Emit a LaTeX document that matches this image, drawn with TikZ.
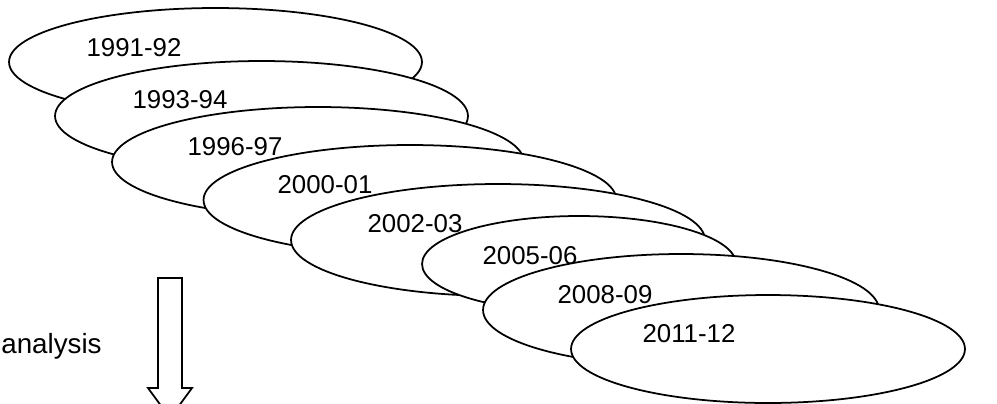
\documentclass[tikz,border=0pt]{standalone}
\usepackage{fontspec}
\setmainfont{Liberation Sans}
\usetikzlibrary{shapes.geometric}
\tikzset{yrbox/.style={ellipse,draw,fill=white,line width=1pt,inner sep=0pt},
         yrtext/.style={font=\fontsize{14.7}{18}\selectfont,inner sep=0pt}}

\begin{document}
\begin{tikzpicture}[x=0.02cm,y=-0.02cm]
\useasboundingbox (0,0) rectangle (997,403);
% the survey rounds
\node[yrbox,minimum width=8.26cm,minimum height=2.16cm] (E1) at (215.5,62) {};
\node[yrtext] (T1) at (134,48) {1991-92};
\node[yrbox,minimum width=8.26cm,minimum height=2.2cm] (E2) at (261.5,116) {};
\node[yrtext] (T2) at (180,100) {1993-94};
\node[yrbox,minimum width=8.24cm,minimum height=2.2cm] (E3) at (318,162) {};
\node[yrtext] (T3) at (235,147) {1996-97};
\node[yrbox,minimum width=8.26cm,minimum height=2.2cm] (E4) at (410,200) {};
\node[yrtext] (T4) at (325,185) {2000-01};
\node[yrbox,minimum width=8.28cm,minimum height=2.24cm] (E5) at (498,240) {};
\node[yrtext] (T5) at (415,224) {2002-03};
\node[yrbox,minimum width=6.28cm,minimum height=1.92cm] (E6) at (579,264) {};
\node[yrtext] (T6) at (530,255.5) {2005-06};
\node[yrbox,minimum width=7.92cm,minimum height=2.24cm] (E7) at (681,310) {};
\node[yrtext] (T7) at (605,294.5) {2008-09};
\node[yrbox,minimum width=7.88cm,minimum height=2.16cm] (E8) at (768,349) {};
\node[yrtext] (T8) at (689,334) {2011-12};
% block arrow
\draw[line width=1pt,fill=white] (158,278) -- (182,278) -- (182,388) -- (192,388)
   -- (170,418) -- (148,388) -- (158,388) -- cycle;
\node[yrtext,font=\fontsize{15.8}{19}\selectfont,anchor=base east] (A) at (102,353) {analysis};
\end{tikzpicture}
\end{document}
